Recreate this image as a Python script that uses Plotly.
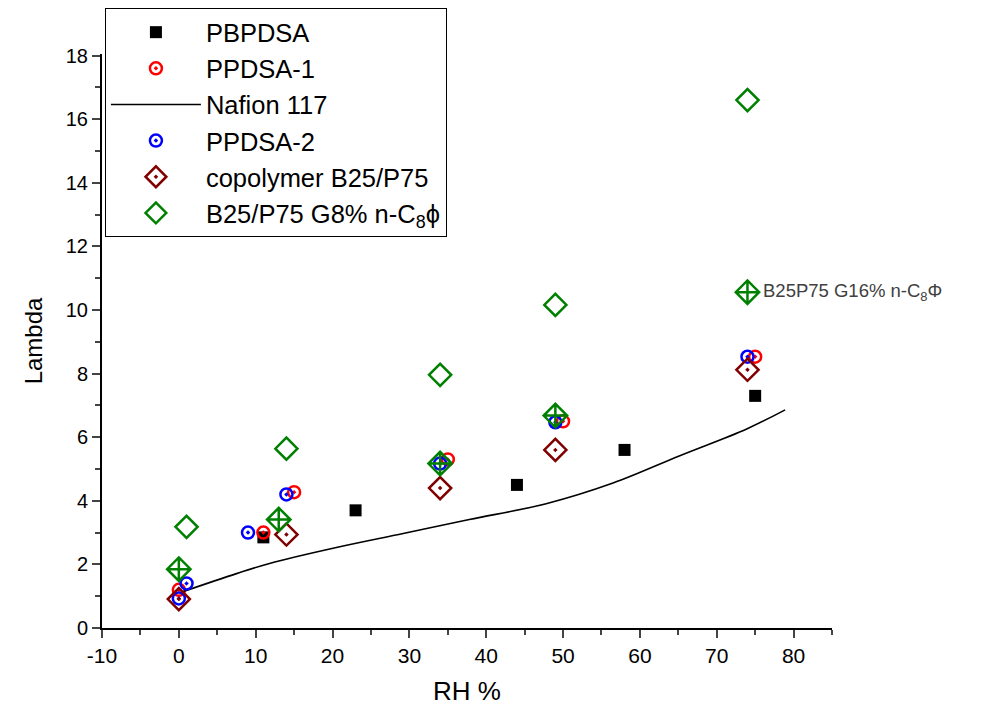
import plotly.graph_objects as go

# PBPDSA
pb_x = [11, 23, 44, 58, 75]
pb_y = [2.85, 3.7, 4.5, 5.6, 7.3]
# PPDSA-1
p1_x = [0, 11, 15, 35, 50, 75]
p1_y = [1.2, 3.0, 4.27, 5.3, 6.5, 8.53]
# Nafion 117
naf_x = [0.5, 7.5, 11.8, 20.5, 29.2, 37.8, 47.8, 56.5, 65.2, 73.9, 78.9]
naf_y = [1.14, 1.71, 2.03, 2.53, 2.97, 3.41, 3.91, 4.56, 5.42, 6.26, 6.86]
# PPDSA-2
p2_x = [0, 1, 9, 14, 34, 49, 74]
p2_y = [0.93, 1.4, 3.0, 4.2, 5.17, 6.47, 8.53]
# copolymer B25/P75
co_x = [0, 14, 34, 49, 74]
co_y = [0.91, 2.94, 4.4, 5.6, 8.12]
# B25/P75 G8% n-C8phi
g8_x = [1, 14, 34, 49, 74]
g8_y = [3.18, 5.64, 7.96, 10.16, 16.6]
# B25P75 G16% n-C8Phi
g16_x = [0, 13, 34, 49, 74]
g16_y = [1.85, 3.41, 5.17, 6.68, 10.56]

x_ticks = [-10, 0, 10, 20, 30, 40, 50, 60, 70, 80]
x_labels = ["-10", "0", "10", "20", "30", "40", "50", "60", "70", "80"]
y_ticks = [0, 2, 4, 6, 8, 10, 12, 14, 16, 18]

FONT = "Arial, Liberation Sans, sans-serif"

fig = go.Figure()
fig.add_trace(go.Scatter(x=pb_x, y=pb_y, mode="markers", name="PBPDSA",
                         marker=dict(symbol="square", size=12, color="black")))
fig.add_trace(go.Scatter(x=p1_x, y=p1_y, mode="markers", name="PPDSA-1",
                         marker=dict(symbol="circle-open-dot", size=12, color="#ff0000",
                                     line=dict(width=2.5, color="#ff0000"))))
fig.add_trace(go.Scatter(x=naf_x, y=naf_y, mode="lines", name="Nafion 117",
                         line=dict(color="black", width=1.6, shape="spline")))
fig.add_trace(go.Scatter(x=p2_x, y=p2_y, mode="markers", name="PPDSA-2",
                         marker=dict(symbol="circle-open-dot", size=12, color="#0000ff",
                                     line=dict(width=2.5, color="#0000ff"))))
fig.add_trace(go.Scatter(x=co_x, y=co_y, mode="markers", name="copolymer B25/P75",
                         marker=dict(symbol="diamond-open-dot", size=17, color="#800000",
                                     line=dict(width=2.5, color="#800000"))))
fig.add_trace(go.Scatter(x=g8_x, y=g8_y, mode="markers",
                         name="B25/P75 G8% n-C<sub>8</sub>ϕ",
                         marker=dict(symbol="diamond-open", size=17, color="#008000",
                                     line=dict(width=2.5, color="#008000"))))
fig.add_trace(go.Scatter(x=g16_x, y=g16_y, mode="markers", name="B25P75 G16% n-C8Φ",
                         showlegend=False,
                         marker=dict(symbol="diamond-cross-open", size=18, color="#008000",
                                     line=dict(width=2.5, color="#008000"))))

fig.add_annotation(x=g16_x[-1], y=g16_y[-1], xshift=14, xanchor="left", yanchor="middle",
                   text="B25P75 G16% n-C<sub>8</sub>Φ", showarrow=False,
                   font=dict(family=FONT, size=18.5, color="#404040"))

fig.update_layout(
    width=974, height=706,
    margin=dict(l=94, r=150, t=46, b=86, autoexpand=False),
    plot_bgcolor="white", paper_bgcolor="white",
    font=dict(family=FONT, color="black"),
    showlegend=True,
    legend=dict(x=0.004, y=1.08, xanchor="left", yanchor="top",
                bordercolor="black", borderwidth=1, bgcolor="white",
                font=dict(family=FONT, size=25.5), itemwidth=90,
                tracegroupgap=0),
    xaxis=dict(range=[-10, 85], tickvals=x_ticks, ticktext=x_labels, ticks="outside",
               ticklen=8, tickwidth=1.5,
               showline=True, linecolor="black", linewidth=2, showgrid=False, zeroline=False,
               tickfont=dict(size=21),
               title=dict(text="RH %", font=dict(size=26), standoff=16),
               minor=dict(dtick=5, ticks="outside", ticklen=5, tickwidth=1.5, showgrid=False)),
    yaxis=dict(range=[0, 18.05], tickvals=y_ticks, ticks="outside", ticklen=8, tickwidth=1.5,
               showline=True, linecolor="black", linewidth=2, showgrid=False, zeroline=False,
               tickfont=dict(size=20),
               title=dict(text="Lambda", font=dict(size=24), standoff=16),
               minor=dict(dtick=1, ticks="outside", ticklen=5, tickwidth=1.5, showgrid=False)),
)

fig.write_html("out.html")
